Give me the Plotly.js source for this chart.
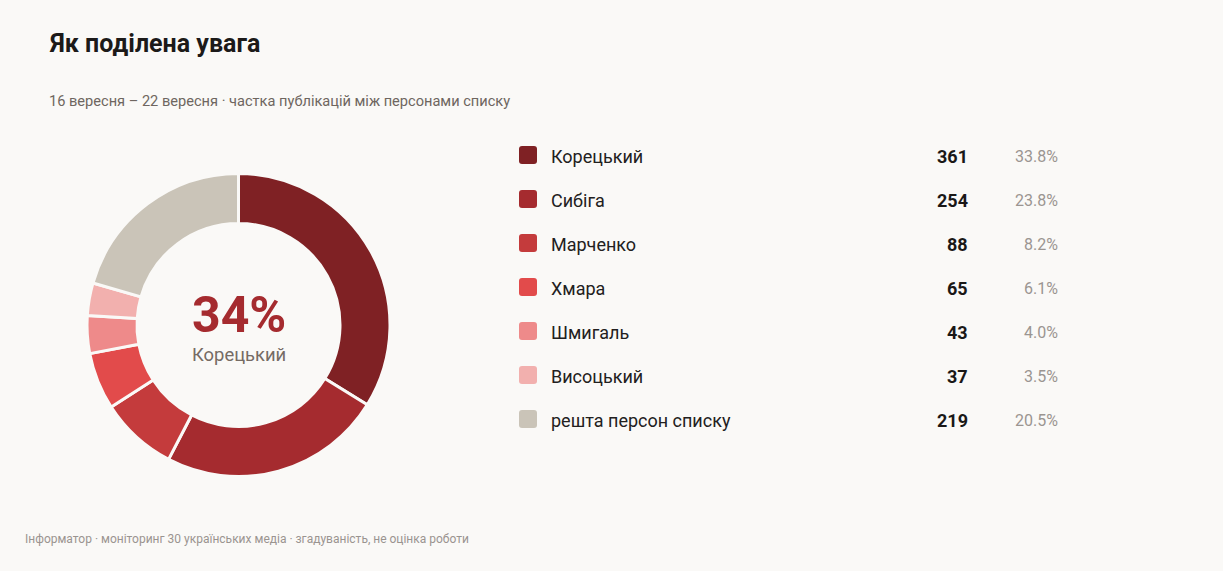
<!DOCTYPE html>
<html><head><meta charset="utf-8">
<script src="https://cdn.plot.ly/plotly-3.0.1.min.js"></script>
<style>html,body{margin:0;padding:0;background:#faf9f7;}#chart{width:1223px;height:571px;}</style>
</head><body><div id="chart"></div>
<script>
const names = ["Корецький","Сибіга","Марченко","Хмара","Шмигаль","Висоцький","решта персон списку"];
const values = [361,254,88,65,43,37,219];
const colors = ["#7f2124","#a52b2f","#c43b3c","#e24b4b","#ee8a8a","#f2b0ae","#cac4b8"];
const titleText = "Як поділена увага";
const subtitleText = "16 вересня – 22 вересня · частка публікацій між персонами списку";
const footerText = "Інформатор · моніторинг 30 українських медіа · згадуваність, не оцінка роботи";

const W = 1223, H = 571;
const total = values.reduce((a,b)=>a+b,0);
const pct = values.map(v => (v/total*100));
const bg = "#faf9f7";
const FONT = "Roboto, sans-serif";

const pie = {
  type: "pie", values: values, labels: names, sort: false, direction: "clockwise", rotation: 0,
  hole: 0.67, textinfo: "none", hoverinfo: "label+value+percent",
  marker: {colors: colors, line: {color: bg, width: 3}},
  domain: {x: [87/W, 390/W], y: [1-477/H, 1-173/H]}, showlegend: false
};

const annotations = [];
const shapes = [];
const A = (x,y,text,size,color,anchor,bold) => annotations.push({
  xref:"x", yref:"y", x:x, y:y, text: bold ? "<b>"+text+"</b>" : text, showarrow:false,
  xanchor:anchor, yanchor:"middle", borderpad:0, borderwidth:0,
  font:{family:FONT, size:size, color:color}
});
A(49, 43, titleText, 25, "#1c1a19", "left", true);
A(49, 101, subtitleText, 14.6, "#6e6660", "left", false);
A(25, 539, footerText, 12, "#9a9490", "left", false);
A(239, 315, Math.round(pct[0]) + "%", 50, "#a52b2f", "center", true);
A(239, 354, names[0], 18.4, "#756b64", "center", false);

names.forEach((n,i) => {
  const y = 155 + i*44;
  const x0 = 519, x1 = 537, y0 = y-9, y1 = y+9, r = 3;
  shapes.push({type:"path", xref:"x", yref:"y", fillcolor: colors[i], line:{width:0},
    path:`M ${x0+r} ${y0} L ${x1-r} ${y0} Q ${x1} ${y0} ${x1} ${y0+r} L ${x1} ${y1-r} Q ${x1} ${y1} ${x1-r} ${y1} L ${x0+r} ${y1} Q ${x0} ${y1} ${x0} ${y1-r} L ${x0} ${y0+r} Q ${x0} ${y0} ${x0+r} ${y0} Z`});
  A(551, y+1, n, 18, "#222020", "left", false);
  A(968, y+1, String(values[i]), 18, "#1a1817", "right", true);
  A(1058, y+1, pct[i].toFixed(1) + "%", 16, "#9b9591", "right", false);
});

const layout = {
  width: W, height: H, paper_bgcolor: bg, plot_bgcolor: "rgba(0,0,0,0)",
  margin: {l:0, r:0, t:0, b:0}, font: {family: FONT},
  xaxis: {range:[0,W], visible:false, fixedrange:true},
  yaxis: {range:[H,0], visible:false, fixedrange:true},
  annotations: annotations, shapes: shapes, showlegend: false
};
const dummy = {type:"scatter", x:[0], y:[0], mode:"markers", marker:{opacity:0}, hoverinfo:"skip", showlegend:false};
Plotly.newPlot("chart", [dummy, pie], layout, {displayModeBar:false, staticPlot:true});
</script></body></html>
